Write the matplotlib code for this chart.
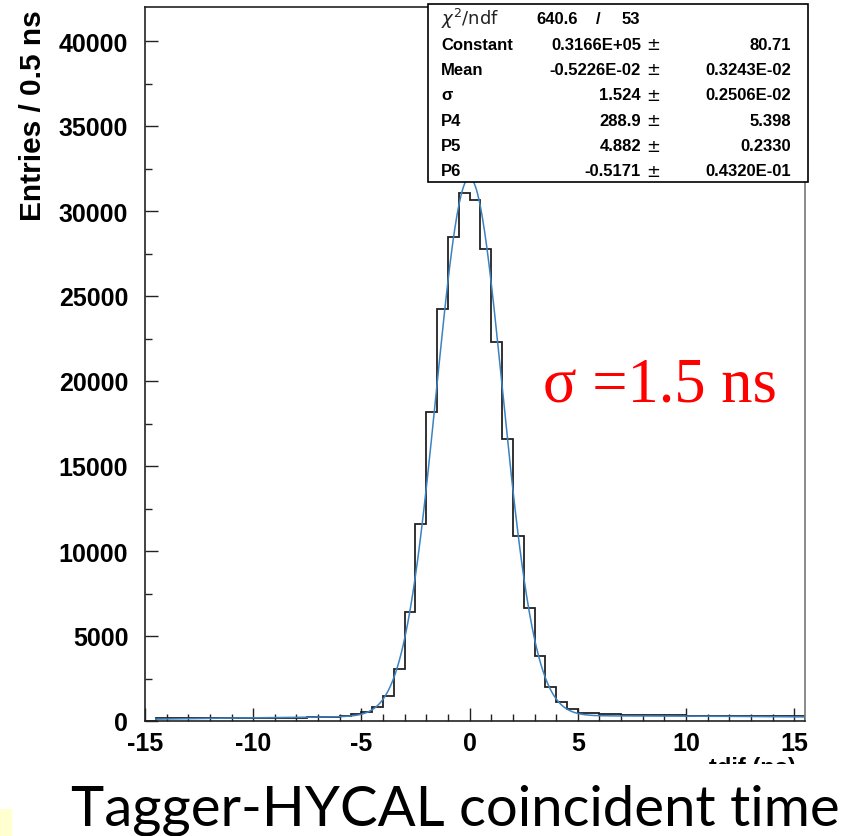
import numpy as np
import matplotlib
matplotlib.use("Agg")
import matplotlib.pyplot as plt
from matplotlib.patches import Rectangle
from matplotlib.ticker import MultipleLocator

plt.rcParams["axes.unicode_minus"] = False

# ---------------- data ----------------
bin_low = -15.0
bin_width = 0.5
counts = [0, 150, 160, 150, 165, 170, 160, 175, 180, 175,
          185, 190, 195, 200, 205, 215, 225, 250, 310, 390,
          520, 800, 1470, 3080, 6400, 11600, 18170, 24250, 28470, 31080,
          30670, 27740, 22270, 16560, 10910, 6650, 3830, 2020, 1100, 690,
          450, 450, 390, 390, 380, 380, 350, 350, 330, 330,
          320, 315, 310, 305, 300, 300, 295, 290, 280, 285,
          280]

# fit parameters (from stats box)
fit_const = 0.3166e5
fit_mean = -0.5226e-2
fit_sigma = 1.524
fit_p4 = 288.9
fit_p5 = 4.882
fit_p6 = -0.5171
fit_range = (-14.5, 15.5)

stat_names = ["Constant", "Mean", "\u03c3", "P4", "P5", "P6"]
stat_values = ["0.3166E+05", "-0.5226E-02", "1.524", "288.9", "4.882", "-0.5171"]
stat_errors = ["80.71", "0.3243E-02", "0.2506E-02", "5.398", "0.2330", "0.4320E-01"]

x_ticks = [-15, -10, -5, 0, 5, 10, 15]
y_ticks = [0, 5000, 10000, 15000, 20000, 25000, 30000, 35000, 40000]

# ---------------- figure ----------------
W, H = 852, 837
fig = plt.figure(figsize=(W / 100, H / 100), dpi=100)
fig.patch.set_facecolor("white")

def fx(px):
    return px / W

def fy(py):
    return 1 - py / H

ax = fig.add_axes([fx(145), fy(722), fx(805) - fx(145), fy(8) - fy(722)])

edges = bin_low + bin_width * np.arange(len(counts) + 1)
ax.stairs(counts, edges, color="#222222", lw=1.3, baseline=0)

xf = np.linspace(fit_range[0], fit_range[1], 1200)
yf = (fit_const * np.exp(-0.5 * ((xf - fit_mean) / fit_sigma) ** 2)
      + fit_p4 + fit_p5 * xf + fit_p6 * xf ** 2)
ax.plot(xf, yf, color="#3b82c0", lw=1.1)

ax.set_xlim(-15, 15.5)
ax.set_ylim(0, 42000)
ax.set_xticks(x_ticks)
ax.set_yticks(y_ticks)
ax.xaxis.set_minor_locator(MultipleLocator(1))
ax.yaxis.set_minor_locator(MultipleLocator(2500))
ax.tick_params(which="both", direction="in", top=False, right=False,
               width=1.0, color="#222222")
ax.tick_params(which="major", length=9.5, labelsize=18, pad=7)
ax.tick_params(which="minor", length=5)
ax.tick_params(axis="y", which="major", pad=12)
for lab in ax.get_xticklabels() + ax.get_yticklabels():
    lab.set_fontweight("bold")
    lab.set_family("Liberation Sans")
for s in ax.spines.values():
    s.set_linewidth(1.2)
    s.set_color("#222222")
ax.spines["right"].set_color("#777777")

# y label
fig.text(fx(33), fy(10), "Entries / 0.5 ns", rotation=90, ha="center", va="top",
         fontsize=21.5, fontweight="bold", family="Liberation Sans")

# x label (partially hidden)
fig.text(fx(796), fy(757), "tdif (ns)", ha="right", va="top",
         fontsize=17, fontweight="bold", family="Liberation Sans")
fig.add_artist(Rectangle((0, 0), 1, fy(765), transform=fig.transFigure,
                         facecolor="white", edgecolor="none", zorder=20))
fig.add_artist(Rectangle((0, 0), fx(12), fy(810), transform=fig.transFigure,
                         facecolor="#ffffd0", edgecolor="none", zorder=21))

# title
fig.text(fx(455), fy(810), "Tagger-HYCAL coincident time", ha="center", va="center",
         fontsize=40.5, family="Lato", zorder=22)

# red annotation
fig.text(fx(543), fy(401), "\u03c3 =1.5 ns", color="red",
         fontsize=45, family="Liberation Serif", ha="left", va="baseline")

# stats box
bx0, by0, bx1, by1 = 428, 5, 808, 183
fig.add_artist(Rectangle((fx(bx0), fy(by1)), fx(bx1) - fx(bx0), fy(by0) - fy(by1),
                         transform=fig.transFigure, facecolor="white",
                         edgecolor="black", lw=1.2, zorder=10))
kw = dict(fontsize=12, fontweight="bold", family="Liberation Sans", zorder=11,
          va="center")
row0 = 19
fig.text(fx(441), fy(row0), r"$\chi^2$/ndf", fontsize=13, family="DejaVu Sans",
         color="#222222", va="center", zorder=11)
fig.text(fx(578), fy(row0), "640.6", ha="right", **kw)
fig.text(fx(598), fy(row0), "/", ha="center", **kw)
fig.text(fx(640), fy(row0), "53", ha="right", **kw)
for i, (n, v, e) in enumerate(zip(stat_names, stat_values, stat_errors)):
    yy = 45 + i * 25.4
    fig.text(fx(441), fy(yy), n, ha="left", **kw)
    fig.text(fx(641), fy(yy), v, ha="right", **kw)
    fig.text(fx(653), fy(yy), "\u00b1", ha="center", fontsize=12,
             family="DejaVu Sans", va="center", zorder=11)
    fig.text(fx(791), fy(yy), e, ha="right", **kw)

fig.savefig("out.png", dpi=100)
